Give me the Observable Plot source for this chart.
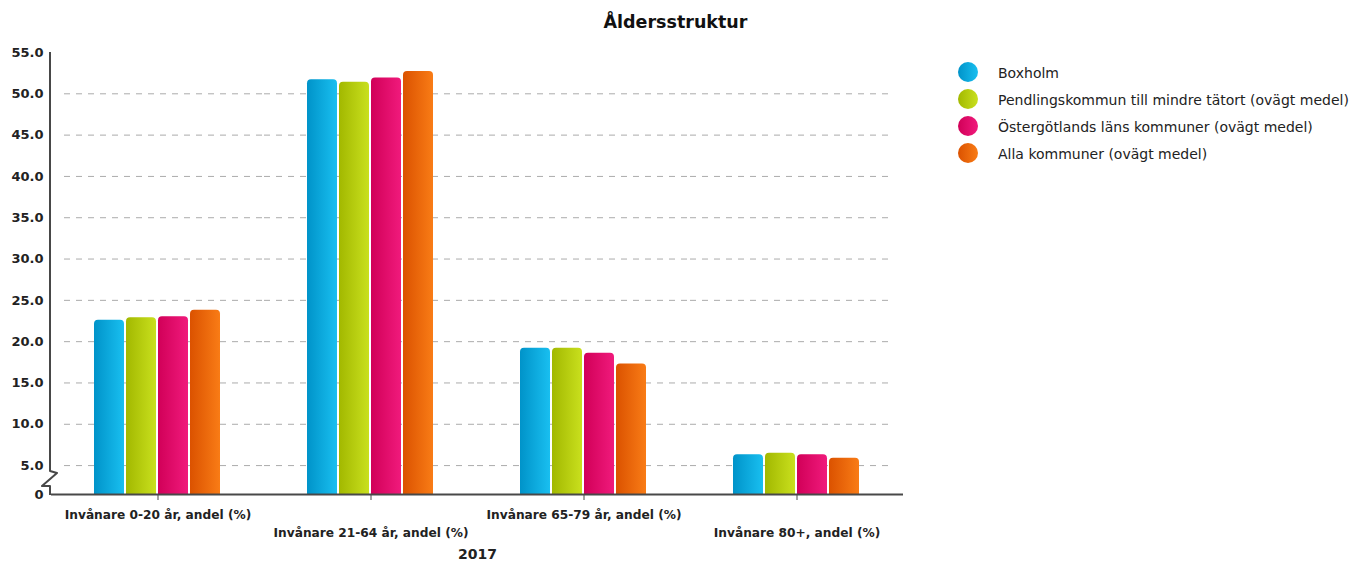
<!DOCTYPE html>
<html>
<head>
<meta charset="utf-8">
<script src="https://cdn.jsdelivr.net/npm/d3@7"></script>
<script src="https://cdn.jsdelivr.net/npm/@observablehq/plot@0.6"></script>
<style>
  html, body { margin: 0; padding: 0; background: #fff; }
  body { width: 1351px; height: 563px; position: relative; overflow: hidden; font-family: "DejaVu Sans", sans-serif; color: #222; }
  #title { position: absolute; left: 0; top: 12px; width: 1351px; text-align: center; font-size: 17.5px; font-weight: bold; color: #111; }
  #chart { position: absolute; left: 0; top: 40px; }
  #legend { position: absolute; left: 958px; top: 62px; }
  .row { position: relative; height: 27px; }
  .dot { position: absolute; left: 0; top: 0; width: 20px; height: 20px; border-radius: 50%; }
  .lab { position: absolute; left: 40px; top: 2px; font-size: 14px; line-height: 18px; white-space: nowrap; color: #222; }
</style>
</head>
<body>
<div id="title">Åldersstruktur</div>
<div id="chart"></div>
<div id="legend"></div>
<script>
// ---- data ----
const groups = [
  "Invånare 0-20 år, andel (%)",
  "Invånare 21-64 år, andel (%)",
  "Invånare 65-79 år, andel (%)",
  "Invånare 80+, andel (%)"
];
const series = [
  "Boxholm",
  "Pendlingskommun till mindre tätort (ovägt medel)",
  "Östergötlands läns kommuner (ovägt medel)",
  "Alla kommuner (ovägt medel)"
];
const boxholm      = [22.6, 51.7, 19.2, 6.3];
const pendling     = [22.9, 51.4, 19.2, 6.5];
const ostergotland = [23.0, 51.9, 18.6, 6.3];
const alla         = [23.8, 52.7, 17.3, 5.9];
const yTicks = [5, 10, 15, 20, 25, 30, 35, 40, 45, 50, 55];
const gridTicks = [5, 10, 15, 20, 25, 30, 35, 40, 45, 50];
const axisBase = 1.5;   // broken axis: the baseline shown as "0"
const xLabel = "2017";

// ---- colours (gradient left -> right) ----
const gradStops = [
  ["#0093c9", "#19bff0"],
  ["#a2b800", "#c9e01e"],
  ["#d10058", "#f01a7c"],
  ["#db5200", "#f97c16"]
];

const valuesBySeries = [boxholm, pendling, ostergotland, alla];
const rows = [];
groups.forEach((g, gi) => series.forEach((s, si) => rows.push({group: g, series: s, value: valuesBySeries[si][gi]})));
const gridRows = [];
gridTicks.forEach(t => groups.forEach(g => gridRows.push({t, g})));

const gridStyle = {fx: "g", y: "t", stroke: "#ababab", strokeWidth: 1, strokeDasharray: "6,6"};

const plot = Plot.plot({
  width: 1351,
  height: 523,
  marginTop: 12,
  marginBottom: 69,
  marginLeft: 50,
  marginRight: 447,
  style: {fontFamily: "DejaVu Sans", fontSize: "12px", color: "#222", background: "transparent"},
  fx: {domain: groups, padding: 0},
  x: {domain: series, paddingInner: 0.05, paddingOuter: 1.343, axis: null},
  y: {domain: [axisBase, 55]},
  color: {domain: series, range: series.map((_, i) => `url(#grad${i})`)},
  marks: [
    Plot.ruleY(gridRows.filter(d => d.g === groups[0]), {...gridStyle, insetLeft: 13}),
    Plot.ruleY(gridRows.filter(d => d.g === groups[1] || d.g === groups[2]), gridStyle),
    Plot.ruleY(gridRows.filter(d => d.g === groups[3]), {...gridStyle, insetRight: 12}),
    Plot.barY(rows, {fx: "group", x: "series", y1: 0, y2: "value", fill: "series", rx: 4, ry: 4, clip: true}),
    Plot.ruleY([axisBase], {stroke: "#484848", strokeWidth: 2}),
    Plot.axisY({
      ticks: [axisBase, ...yTicks],
      tickFormat: d => d === axisBase ? "0" : d.toFixed(1),
      tickSize: 0, tickPadding: 8, label: null,
      fontSize: 13, fontWeight: "bold", fill: "#222"
    }),
    Plot.axisFx({
      ticks: [groups[0], groups[2]], anchor: "bottom",
      tickSize: 6, tickPadding: 10, label: null,
      fontSize: 12.2, fontWeight: "bold", stroke: "#484848", fill: "#222"
    }),
    Plot.axisFx({
      ticks: [groups[1], groups[3]], anchor: "bottom",
      tickSize: 6, tickPadding: 28, label: xLabel, labelAnchor: "center", labelOffset: 64,
      fontSize: 12.2, fontWeight: "bold", stroke: "#484848", fill: "#222"
    })
  ]
});

// gradients for the bars
const svgSel = d3.select(plot);
const defs = svgSel.insert("defs", ":first-child");
gradStops.forEach((st, i) => {
  const lg = defs.append("linearGradient").attr("id", `grad${i}`).attr("x1", 0).attr("x2", 1).attr("y1", 0).attr("y2", 0);
  lg.append("stop").attr("offset", "0%").attr("stop-color", st[0]);
  lg.append("stop").attr("offset", "100%").attr("stop-color", st[1]);
});

// axis title size
svgSel.selectAll("text").filter(function () { return this.textContent === xLabel; })
  .attr("font-size", 14).attr("font-weight", "bold");

// y-axis line with the break symbol, positioned through the y scale
const yScale = plot.scale("y");
const axisX = 50;
const yTop = yScale.apply(55), yFive = yScale.apply(5), yBase = yScale.apply(axisBase);
svgSel.append("path")
  .attr("d", `M${axisX},${yTop} V${yFive + 6} L${axisX + 7},${yFive + 8} L${axisX - 8},${yBase - 8} L${axisX},${yBase - 8} V${yBase + 1}`)
  .attr("fill", "none").attr("stroke", "#484848").attr("stroke-width", 2).attr("stroke-linejoin", "round");

document.getElementById("chart").appendChild(plot);

// legend
const legendEl = document.getElementById("legend");
series.forEach((s, i) => {
  const row = document.createElement("div");
  row.className = "row";
  const dot = document.createElement("div");
  dot.className = "dot";
  dot.style.background = `linear-gradient(90deg, ${gradStops[i][0]}, ${gradStops[i][1]})`;
  const lab = document.createElement("div");
  lab.className = "lab";
  lab.textContent = s;
  row.appendChild(dot);
  row.appendChild(lab);
  legendEl.appendChild(row);
});
</script>
</body>
</html>
